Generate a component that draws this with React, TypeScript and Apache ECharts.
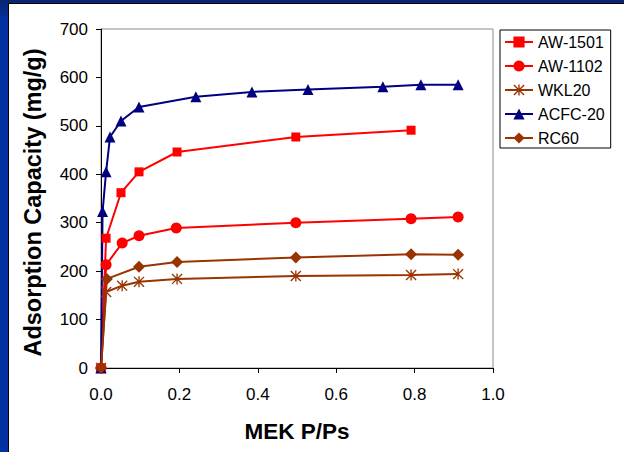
import React, { useEffect, useRef } from "react";
import * as echarts from "echarts";

const seriesNames = ["AW-1501", "AW-1102", "WKL20", "ACFC-20", "RC60"];

const aw1501X = [0, 0.013, 0.051, 0.097, 0.194, 0.497, 0.791];
const aw1501Y = [0, 268, 362, 405, 446, 477, 491];

const aw1102X = [0, 0.013, 0.054, 0.097, 0.192, 0.497, 0.791, 0.911];
const aw1102Y = [0, 213, 258, 273, 289, 300, 308, 312];

const wkl20X = [0, 0.013, 0.054, 0.097, 0.194, 0.497, 0.791, 0.911];
const wkl20Y = [0, 157, 170, 178, 184, 190, 192, 194];

const acfcX = [0, 0.004, 0.013, 0.023, 0.051, 0.097, 0.242, 0.385, 0.528, 0.719, 0.816, 0.911];
const acfcY = [0, 323, 405, 477, 510, 539, 560, 570, 575, 581, 585, 585];

const rc60X = [0, 0.015, 0.097, 0.194, 0.497, 0.791, 0.911];
const rc60Y = [0, 184, 209, 219, 228, 235, 234];

const xTicks = [0, 0.2, 0.4, 0.6, 0.8, 1.0];
const yTicks = [0, 100, 200, 300, 400, 500, 600, 700];

const zip = (xs: number[], ys: number[]) => xs.map((x, i) => [x, ys[i]]);

const asterisk =
  "path://M4.4,0L5.6,0L5.6,10L4.4,10Z" +
  "M0.92,0.08L9.92,9.08L9.08,9.92L0.08,0.92Z" +
  "M9.08,0.08L9.92,0.92L0.92,9.92L0.08,9.08Z";

export default function App() {
  const ref = useRef<HTMLDivElement>(null);
  useEffect(() => {
    if (!ref.current) return;
    const chart = echarts.init(ref.current, null, { renderer: "svg" });
    const font = "Liberation Sans, Arial, sans-serif";
    const mk = (
      name: string,
      data: number[][],
      color: string,
      symbol: string,
      size: number
    ) => ({
      name,
      type: "line",
      data,
      symbol,
      symbolSize: size,
      showAllSymbol: true,
      itemStyle: { color },
      lineStyle: { color, width: 2 },
      z: 3,
    });
    chart.setOption({
      animation: false,
      backgroundColor: "#ffffff",
      textStyle: { fontFamily: font },
      grid: {
        left: 92,
        top: 25,
        width: 392,
        height: 339,
        show: true,
        borderColor: "#8c8c8c",
        borderWidth: 1,
        backgroundColor: "transparent",
      },
      legend: {
        orient: "vertical",
        left: 491,
        top: 26,
        width: 110,
        backgroundColor: "#ffffff",
        borderColor: "#000000",
        borderWidth: 1,
        padding: [4, 6, 2, 4],
        itemGap: 8,
        itemWidth: 28,
        itemHeight: 14,
        textStyle: { fontSize: 16, color: "#000", fontFamily: font },
        data: seriesNames,
      },
      xAxis: {
        type: "value",
        min: xTicks[0],
        max: xTicks[xTicks.length - 1],
        interval: 0.2,
        name: "MEK P/Ps",
        nameLocation: "middle",
        nameGap: 52,
        nameTextStyle: { fontSize: 22.5, fontWeight: "bold", color: "#000", fontFamily: font },
        axisLine: { show: true, onZero: false, lineStyle: { color: "#000", width: 1 } },
        axisTick: { show: true, inside: false, length: 5, lineStyle: { color: "#000" } },
        axisLabel: {
          fontSize: 17,
          color: "#000",
          margin: 18,
          formatter: (v: number) => v.toFixed(1),
        },
        splitLine: { show: false },
      },
      yAxis: {
        type: "value",
        min: yTicks[0],
        max: yTicks[yTicks.length - 1],
        interval: 100,
        name: "Adsorption Capacity (mg/g)",
        nameLocation: "middle",
        nameGap: 56,
        nameTextStyle: {
          fontSize: 23.5,
          fontWeight: "bold",
          color: "#000",
          fontFamily: font,
          padding: [0, 8, 0, 0],
        },
        axisLine: { show: true, onZero: false, lineStyle: { color: "#000", width: 1 } },
        axisTick: { show: true, inside: false, length: 5, lineStyle: { color: "#000" } },
        axisLabel: { fontSize: 17, color: "#000", margin: 13 },
        splitLine: { show: false },
      },
      series: [
        mk("AW-1501", zip(aw1501X, aw1501Y), "#ff0000", "rect", 9),
        mk("AW-1102", zip(aw1102X, aw1102Y), "#ff0000", "circle", 11),
        mk("WKL20", zip(wkl20X, wkl20Y), "#993300", asterisk, 11),
        mk("ACFC-20", zip(acfcX, acfcY), "#000080", "triangle", 11),
        mk("RC60", zip(rc60X, rc60Y), "#993300", "diamond", 12),
      ],
    });
    return () => chart.dispose();
  }, []);
  return (
    <div
      style={{
        position: "fixed",
        left: 0,
        top: 0,
        width: 624,
        height: 452,
        background: "linear-gradient(180deg, #0a2470 0px, #0033a0 20px, #0033a0 100%)",
        overflow: "hidden",
      }}
    >
      <div
        style={{
          position: "absolute",
          left: 8,
          top: 3,
          width: 616,
          height: 449,
          background: "#ffffff",
          borderLeft: "1px solid #000",
          borderTop: "1px solid #000",
          boxSizing: "border-box",
        }}
      >
        <div ref={ref} style={{ position: "absolute", left: 0, top: 0, width: 615, height: 448 }} />
      </div>
    </div>
  );
}
